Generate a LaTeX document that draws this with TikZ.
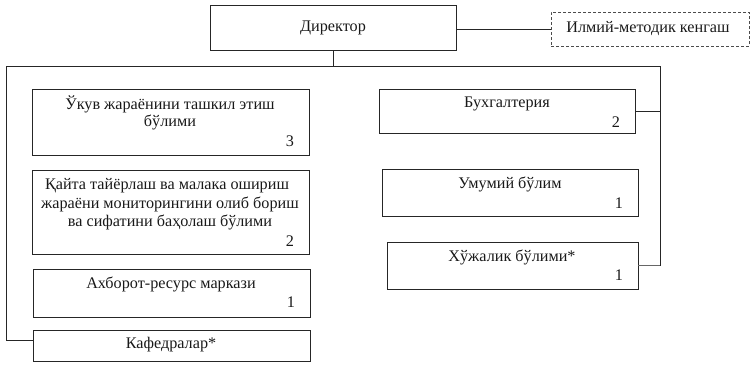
\documentclass[tikz,border=0pt]{standalone}
\usepackage{fontspec}
\setmainfont{Liberation Serif}
\usetikzlibrary{calc}
\begin{document}
\begin{tikzpicture}[x=1pt,y=-1pt,
  box/.style={draw=black!85, line width=0.9pt, inner sep=0pt},
  dbox/.style={box, dashed, dash pattern=on 3pt off 2pt, draw=black!70},
  txt/.style={inner sep=0pt, font=\fontsize{16.2}{19}\selectfont, text=black!90},
  ln/.style={draw=black!85, line width=0.9pt},
  thin/.style={draw=black!60, line width=0.4pt}]
\useasboundingbox (0,0) rectangle (755,367);
% boxes
\node[box, minimum width=246pt, minimum height=45pt] (dir) at (333,27.5) {};
\node[txt] at (333,28) {Директор};
\node[dbox, minimum width=198pt, minimum height=34pt] (ilm) at (650,29) {};
\node[txt] at (648,29) {Илмий-методик кенгаш};

\node[box, minimum width=277pt, minimum height=66pt] (ukuv) at (170.5,122) {};
\node[txt] at (170,104) {Ўкув жараёнини ташкил этиш};
\node[txt] at (170,122) {бўлими};
\node[txt] at (290,141) {3};

\node[box, minimum width=277pt, minimum height=84pt] (qayta) at (170.5,212) {};
\node[txt] at (167,186) {Қайта тайёрлаш ва малака ошириш};
\node[txt] at (170,204) {жараёни мониторингини олиб бориш};
\node[txt] at (170,222) {ва сифатини баҳолаш бўлими};
\node[txt] at (290,241) {2};

\node[box, minimum width=277pt, minimum height=48pt] (akhb) at (171.5,293) {};
\node[txt] at (171,284) {Ахборот-ресурс маркази};
\node[txt] at (291,302) {1};

\node[box, minimum width=277pt, minimum height=31pt] (kaf) at (171.5,345.5) {};
\node[txt] at (171,345) {Кафедралар*};

\node[box, minimum width=256pt, minimum height=44pt] (bukh) at (507,111) {};
\node[txt] at (507,104) {Бухгалтерия};
\node[txt] at (616,122) {2};

\node[box, minimum width=256pt, minimum height=47pt] (umum) at (510,192.5) {};
\node[txt] at (510,184) {Умумий бўлим};
\node[txt] at (619,203) {1};

\node[box, minimum width=251pt, minimum height=47pt] (khuzh) at (512.5,265.5) {};
\node[txt] at (512,257) {Хўжалик бўлими*};
\node[txt] at (619,275) {1};

% bus
\coordinate (busL) at (6,66);
\coordinate (busR) at (660,66);
\draw[ln] (dir.east |- ilm.west) -- (ilm.west);
\draw[ln] (dir.south) -- (dir.south |- busL);
\draw[ln] ($(kaf.west)+(0,-5.5)$) -| (busL) -- (busR) -- (busR |- khuzh.east);
\draw[thin] (busR |- khuzh.east) -- (khuzh.east);
\draw[ln] ($(ukuv.west)+(0,5)$) -- ($(ukuv.west)+(0,5)$ -| busL);
\draw[ln] ($(qayta.west)+(0,2)$) -- ($(qayta.west)+(0,2)$ -| busL);
\draw[ln] ($(akhb.west)+(0,-1)$) -- ($(akhb.west)+(0,-1)$ -| busL);
\draw[ln] (bukh.east) -- (bukh.east -| busR);
\draw[ln] ($(umum.east)+(0,1.5)$) -- ($(umum.east)+(0,1.5)$ -| busR);
\end{tikzpicture}
\end{document}
